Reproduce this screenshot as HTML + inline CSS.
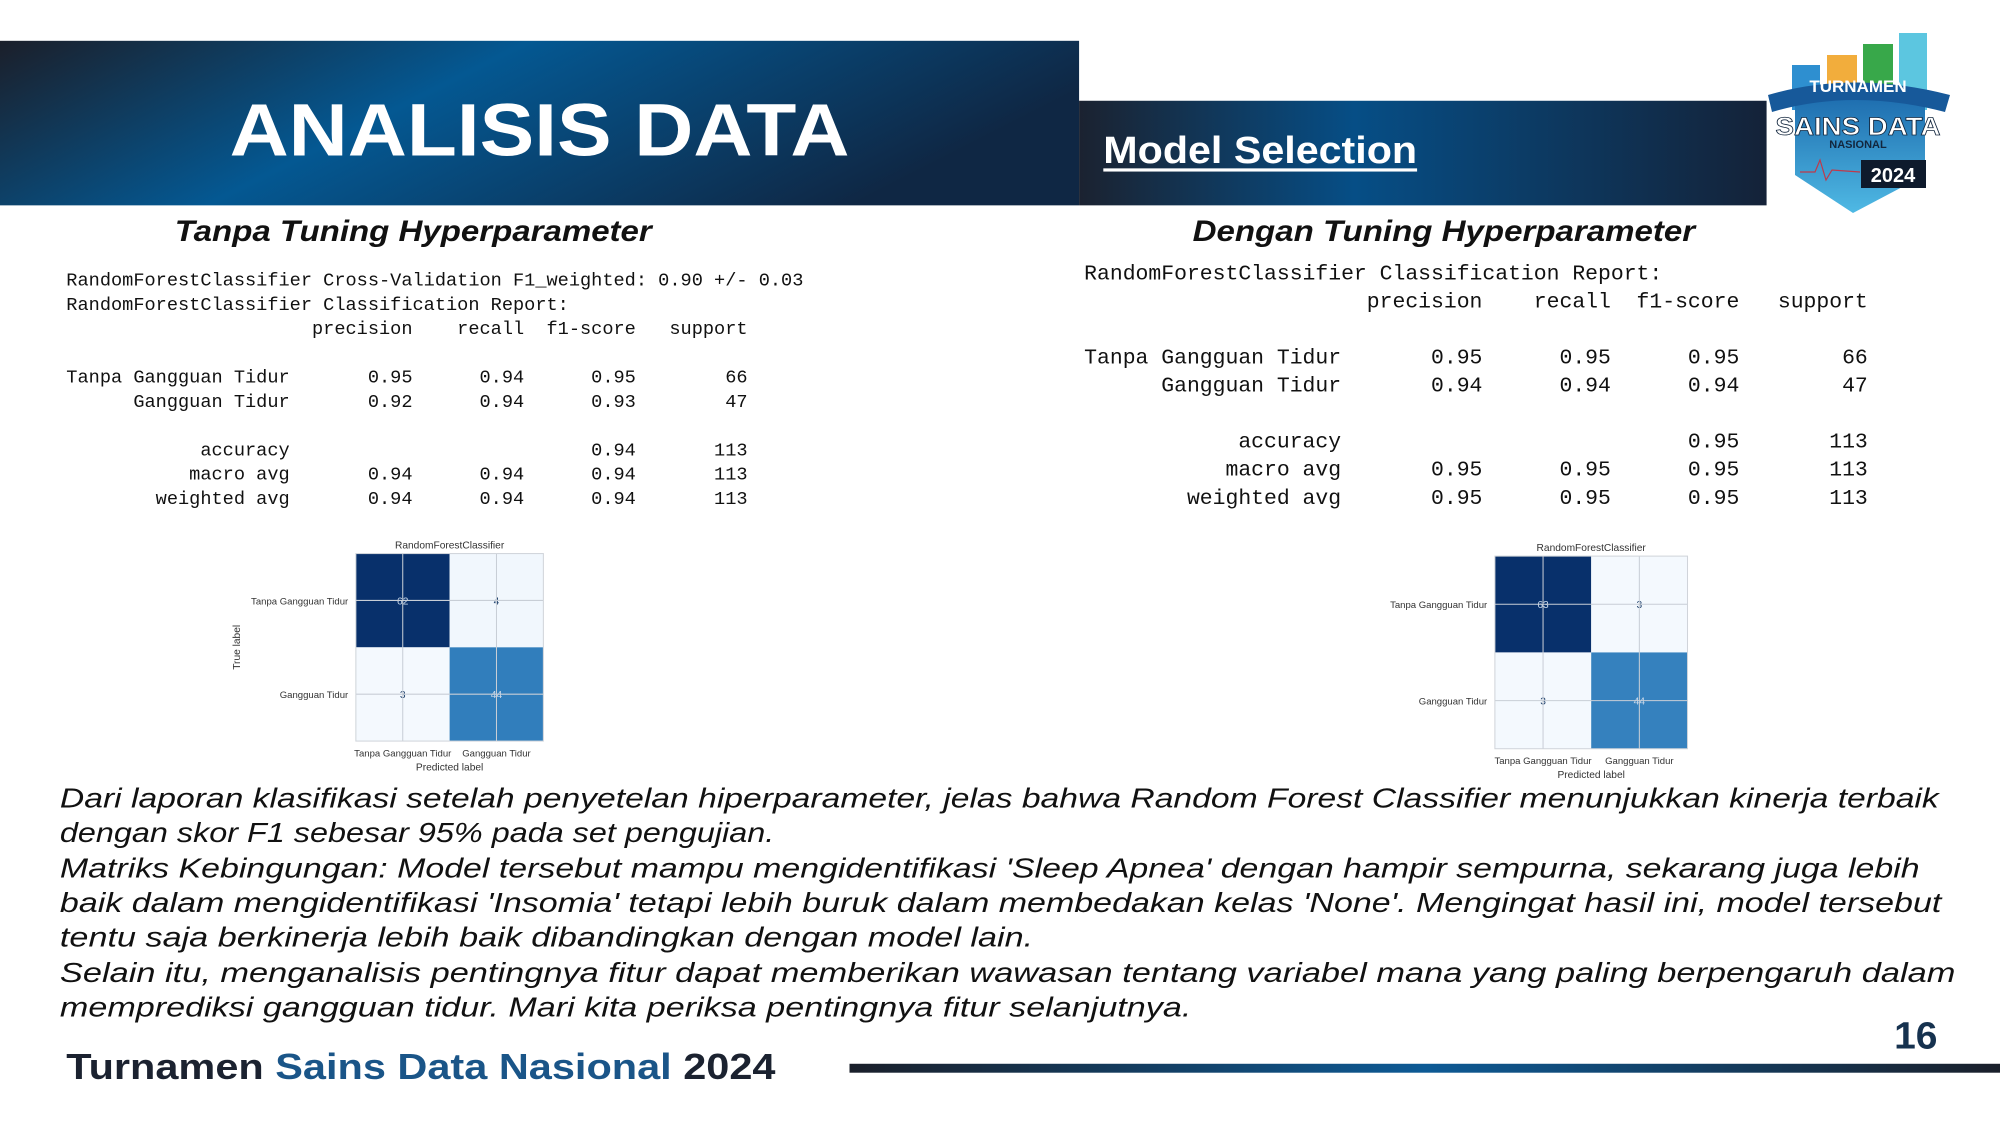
<!DOCTYPE html>
<html><head><meta charset="utf-8"><style>
html,body{margin:0;padding:0;background:#fff;}
svg{display:block;}
.mono{font-family:"Liberation Mono","DejaVu Sans Mono",monospace;fill:#111;white-space:pre;}
.mono text{white-space:pre;}
.sans{font-family:"Liberation Sans",sans-serif;}
</style></head><body>
<svg id="page" width="2000" height="1125" viewBox="0 0 1568 882" xmlns="http://www.w3.org/2000/svg">
<defs>
<linearGradient id="hg" x1="0" y1="0" x2="1" y2="0.3">
<stop offset="0" stop-color="#1b1f2a"/><stop offset="0.45" stop-color="#045892"/><stop offset="1" stop-color="#0f2744"/></linearGradient>
<linearGradient id="hg2" x1="0" y1="0" x2="1" y2="0">
<stop offset="0" stop-color="#1b2230"/><stop offset="0.4" stop-color="#064e86"/><stop offset="1" stop-color="#142238"/></linearGradient>
<linearGradient id="fl" x1="0" y1="0" x2="1" y2="0">
<stop offset="0" stop-color="#1a1f2a"/><stop offset="0.5" stop-color="#0d5a95"/><stop offset="1" stop-color="#1a1f2a"/></linearGradient>
<linearGradient id="sh" x1="0" y1="0" x2="0" y2="1">
<stop offset="0" stop-color="#1f6fb0"/><stop offset="1" stop-color="#4fb9e4"/></linearGradient>
</defs>

<rect x="0" y="32" width="846" height="129" fill="url(#hg)"/>
<text class="sans" x="180" y="122" font-size="58" font-weight="bold" fill="#fff" textLength="486" lengthAdjust="spacingAndGlyphs">ANALISIS DATA</text>
<rect x="846" y="79" width="539" height="82" fill="url(#hg2)"/>
<text class="sans" x="865" y="128" font-size="30" font-weight="bold" fill="#fff" textLength="246" lengthAdjust="spacingAndGlyphs">Model Selection</text>
<rect x="865" y="132" width="246" height="2.5" fill="#fff"/>

<g transform="scale(0.784)">
<rect x="1792" y="65" width="28" height="45" fill="#2e8fd0"/>
<rect x="1827" y="55" width="30" height="55" fill="#f2ad3c"/>
<rect x="1863" y="44" width="30" height="66" fill="#38a84a"/>
<rect x="1899" y="33" width="28" height="77" fill="#5cc6e0"/>
<path d="M1795 100 L1925 100 L1925 175 L1853 213 L1795 175 Z" fill="url(#sh)"/>
<path d="M1768 95 Q1853 70 1950 95 L1945 112 Q1853 88 1772 112 Z" fill="#17599a"/>
<text x="1858" y="92" class="sans" font-size="17" font-weight="bold" fill="#fff" text-anchor="middle">TURNAMEN</text>
<text x="1858" y="135" class="sans" font-size="25" font-weight="bold" fill="#fff" stroke="#12263d" stroke-width="0.8" text-anchor="middle" textLength="165" lengthAdjust="spacingAndGlyphs">SAINS DATA</text>
<text x="1858" y="148" class="sans" font-size="11" font-weight="bold" fill="#12263d" text-anchor="middle">NASIONAL</text>
<rect x="1861" y="160" width="65" height="28" fill="#0e1a2c"/>
<text x="1893" y="182" class="sans" font-size="20" font-weight="bold" fill="#fff" text-anchor="middle">2024</text>
<polyline points="1800,172 1815,172 1820,160 1826,180 1832,170 1860,172" fill="none" stroke="#c0394a" stroke-width="1.2"/>
</g>

<text class="sans" x="324" y="189" font-size="23" font-weight="bold" font-style="italic" fill="#111" text-anchor="middle" textLength="374" lengthAdjust="spacingAndGlyphs">Tanpa Tuning Hyperparameter</text>
<text class="sans" x="1132" y="189" font-size="23" font-weight="bold" font-style="italic" fill="#111" text-anchor="middle" textLength="394" lengthAdjust="spacingAndGlyphs">Dengan Tuning Hyperparameter</text>

<g class="mono" font-size="14.6">
<text x="52" y="224">RandomForestClassifier Cross-Validation F1_weighted: 0.90 +/- 0.03</text>
<text x="52" y="243">RandomForestClassifier Classification Report:</text>
<text x="52" y="262">                      precision    recall  f1-score   support</text>
<text x="52" y="300">Tanpa Gangguan Tidur       0.95      0.94      0.95        66</text>
<text x="52" y="319">      Gangguan Tidur       0.92      0.94      0.93        47</text>
<text x="52" y="357">            accuracy                           0.94       113</text>
<text x="52" y="376">           macro avg       0.94      0.94      0.94       113</text>
<text x="52" y="395">        weighted avg       0.94      0.94      0.94       113</text>
</g>
<g class="mono" font-size="16.8">
<text x="850" y="219">RandomForestClassifier Classification Report:</text>
<text x="850" y="241">                      precision    recall  f1-score   support</text>
<text x="850" y="285">Tanpa Gangguan Tidur       0.95      0.95      0.95        66</text>
<text x="850" y="307">      Gangguan Tidur       0.94      0.94      0.94        47</text>
<text x="850" y="351">            accuracy                           0.95       113</text>
<text x="850" y="373">           macro avg       0.95      0.95      0.95       113</text>
<text x="850" y="395">        weighted avg       0.95      0.95      0.95       113</text>
</g>

<g id="cm1"></g>
<g id="cm2"></g>

<g class="sans" font-size="22" font-style="italic" fill="#111">
<text x="47" y="633" textLength="1473" lengthAdjust="spacingAndGlyphs">Dari laporan klasifikasi setelah penyetelan hiperparameter, jelas bahwa Random Forest Classifier menunjukkan kinerja terbaik</text>
<text x="47" y="660" textLength="560" lengthAdjust="spacingAndGlyphs">dengan skor F1 sebesar 95% pada set pengujian.</text>
<text x="47" y="688" textLength="1458" lengthAdjust="spacingAndGlyphs">Matriks Kebingungan: Model tersebut mampu mengidentifikasi 'Sleep Apnea' dengan hampir sempurna, sekarang juga lebih</text>
<text x="47" y="715" textLength="1475" lengthAdjust="spacingAndGlyphs">baik dalam mengidentifikasi 'Insomia' tetapi lebih buruk dalam membedakan kelas 'None'. Mengingat hasil ini, model tersebut</text>
<text x="47" y="742" textLength="763" lengthAdjust="spacingAndGlyphs">tentu saja berkinerja lebih baik dibandingkan dengan model lain.</text>
<text x="47" y="770" textLength="1486" lengthAdjust="spacingAndGlyphs">Selain itu, menganalisis pentingnya fitur dapat memberikan wawasan tentang variabel mana yang paling berpengaruh dalam</text>
<text x="47" y="797" textLength="887" lengthAdjust="spacingAndGlyphs">memprediksi gangguan tidur. Mari kita periksa pentingnya fitur selanjutnya.</text>
</g>

<text class="sans" x="1485" y="822" font-size="30" font-weight="bold" fill="#16324f" textLength="34" lengthAdjust="spacingAndGlyphs">16</text>
<text class="sans" x="52" y="846" font-size="28" font-weight="bold" fill="#1b2230" textLength="556" lengthAdjust="spacingAndGlyphs">Turnamen <tspan fill="#1a5588">Sains Data Nasional</tspan> 2024</text>
<rect x="666" y="834" width="902" height="7" fill="url(#fl)"/>
</svg>
<script>
const labels = ["Tanpa Gangguan Tidur", "Gangguan Tidur"];
const cmUntuned = [62, 4, 3, 44];
const cmTuned = [63, 3, 3, 44];
const NS = "http://www.w3.org/2000/svg";
function blues(t){
  const stops=[[244,249,254],[198,219,239],[107,174,214],[33,113,181],[8,48,107]];
  t=Math.max(0,Math.min(1,t));const p=t*(stops.length-1);const i=Math.min(Math.floor(p),stops.length-2);const f=p-i;
  const c=stops[i].map((v,k)=>Math.round(v+(stops[i+1][k]-v)*f));return `rgb(${c[0]},${c[1]},${c[2]})`;
}
function mk(tag,attrs,parent){const e=document.createElementNS(NS,tag);for(const k in attrs)e.setAttribute(k,attrs[k]);parent.appendChild(e);return e;}
function drawCM(gid, vals, x0, y0, size, showY){
  const g=document.getElementById(gid);
  const mx=Math.max(...vals), mn=Math.min(...vals);
  const cs=size/2;
  const xs=i=>x0+i*cs, ys=j=>y0+j*cs;
  for(let r=0;r<2;r++)for(let c=0;c<2;c++){
    const v=vals[r*2+c];const t=(v-mn)/(mx-mn);
    const rect=mk("rect",{x:xs(c),y:ys(r),width:cs,height:cs,fill:blues(t)},g);
    
    
    const tx=mk("text",{x:xs(c)+cs/2,y:ys(r)+cs/2+3,"font-size":8,"text-anchor":"middle",fill:t>0.5?"#c8d8ea":"#1d3f6a","font-family":"Liberation Sans, sans-serif"},g);
    tx.textContent=v;
    
    
  }
  for(let i=0;i<2;i++){
    mk("line",{x1:xs(i)+cs/2,y1:y0,x2:xs(i)+cs/2,y2:y0+size,stroke:"#c8ced6","stroke-width":0.8},g);
    mk("line",{x1:x0,y1:ys(i)+cs/2,x2:x0+size,y2:ys(i)+cs/2,stroke:"#c8ced6","stroke-width":0.8},g);
  }
  mk("rect",{x:x0,y:y0,width:size,height:size,fill:"none",stroke:"#d0d4da","stroke-width":0.8},g);
  const f="Liberation Sans, sans-serif";
  let t=mk("text",{x:x0+size/2,y:y0-4,"font-size":8,"text-anchor":"middle",fill:"#333","font-family":f},g);t.textContent="RandomForestClassifier";
  
  
  labels.forEach((l,i)=>{
    let a=mk("text",{x:x0-6,y:ys(i)+cs/2+3,"font-size":7.5,"text-anchor":"end",fill:"#333","font-family":f},g);a.textContent=l;
    
    
    let b=mk("text",{x:xs(i)+cs/2,y:y0+size+12,"font-size":7.5,"text-anchor":"middle",fill:"#333","font-family":f},g);b.textContent=l;
    
    
  });
  t=mk("text",{x:x0+size/2,y:y0+size+23,"font-size":8,"text-anchor":"middle",fill:"#333","font-family":f},g);t.textContent="Predicted label";
  
  
  if(showY){
    t=mk("text",{x:0,y:0,"font-size":8,"text-anchor":"middle",fill:"#333","font-family":f,transform:`translate(${x0-91},${y0+size/2}) rotate(-90)`},g);t.textContent="True label";
    
    
  }
}
drawCM("cm1", cmUntuned, 279, 434, 147, true);
drawCM("cm2", cmTuned, 1172, 436, 151, false);
</script>
</body></html>
